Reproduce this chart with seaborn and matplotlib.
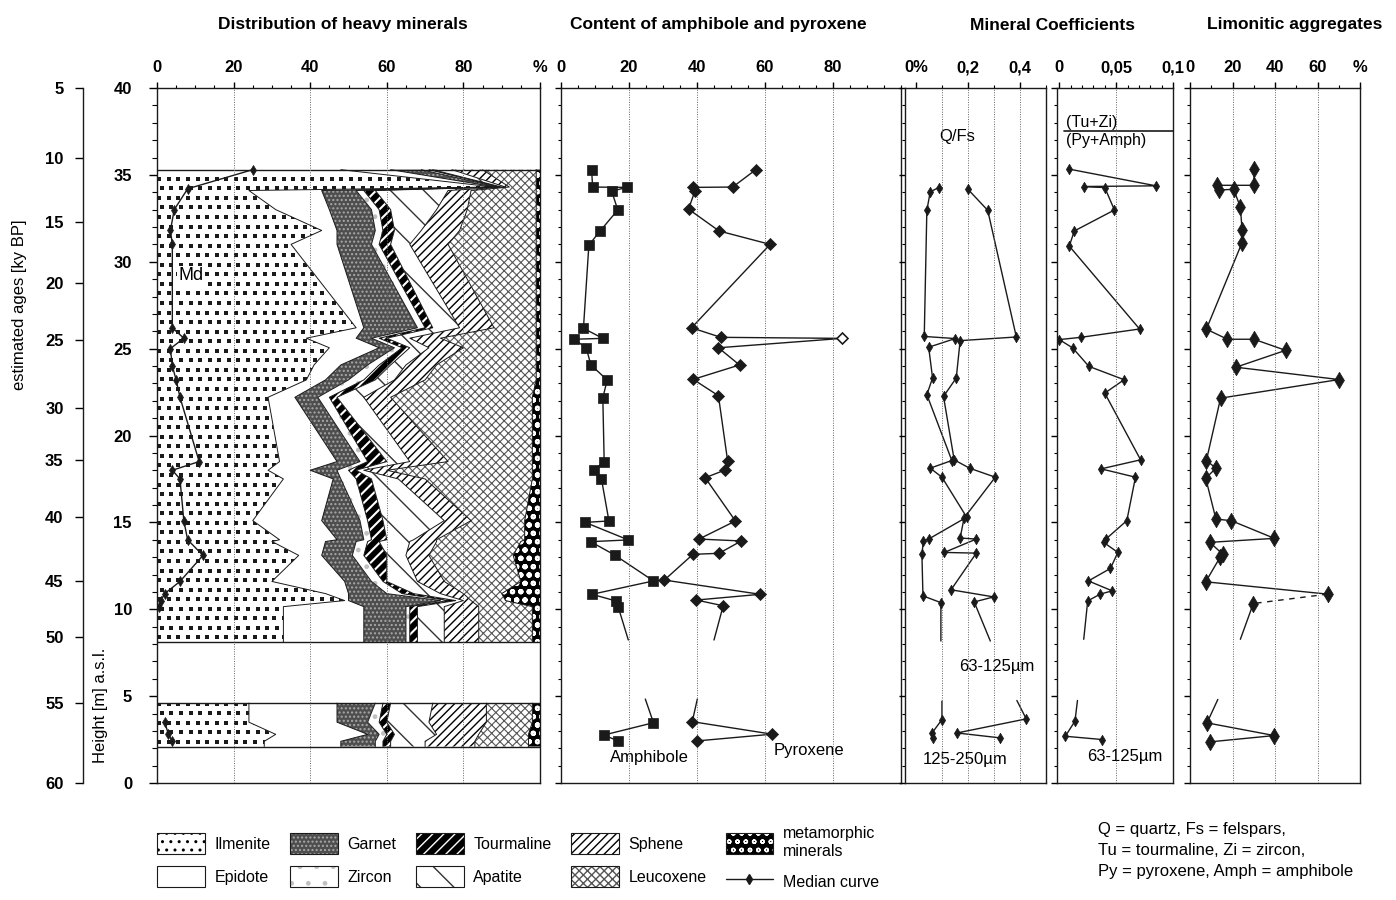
import numpy as np
import matplotlib
matplotlib.use('Agg')
import matplotlib.pyplot as plt
import matplotlib.patches as mpatches
from matplotlib.lines import Line2D
from matplotlib.legend_handler import HandlerTuple
from matplotlib.ticker import MultipleLocator
import seaborn as sns

sns.set_theme(style='ticks')
plt.rcParams['font.family'] = ['Liberation Sans', 'DejaVu Sans']
plt.rcParams['hatch.linewidth'] = 1.0
for key in ['text.color', 'axes.labelcolor', 'xtick.color', 'ytick.color', 'axes.edgecolor']:
    plt.rcParams[key] = 'black'

# ---------------- data ----------------
# heavy minerals, upper block (heights in m a.s.l., values in %)
hm_h = [35.3, 34.3, 34.1, 33.0, 31.8, 31.0, 26.2, 25.6, 25.05, 24.06, 23.2, 22.2,
        18.5, 18.0, 17.5, 15.1, 14.0, 13.9, 13.1, 11.6, 10.9, 10.5, 10.15]
hm_base = 8.1
ilmenite = [48, 88, 24, 31, 43, 35, 52, 39, 45, 41, 39, 29, 32, 29, 33, 25, 32, 30, 37, 30, 44, 49, 33]
epidote = [13, .5, 19, 14, 4, 12, 2, 13, 13, 7, 5, 7, 15, 11, 13, 18, 15, 14, 6, 19, 6, 1, 21]
garnet = [8, .5, 9, 11, 10, 9, 14, 4, 4, 7, 6, 6, 6, 7, 2, 10, 7, 8, 8, 7, 10, 24, 11]
zircon = [2, .5, 2, 2, 2, 2, 2, 2, 2, 3, 4, 3, 2, 3, 4, 2, 2, 3, 3, 3, 4, 2, 1]
tourmaline = [1, .5, 3, 3, 3, 3, 2, 2, 2, 3, 3, 2, 5, 2, 4, 4, 4, 3, 6, 1, 3, 2, 2]
apatite = [5, 1, 19, 12, 7, 5, 7, 6, 5, 4, 5, 7, 6, 2, 7, 16, 7, 8, 5, 8, 7, 2, 7]
sphene = [8, 1, 6, 8, 10, 10, 9, 8, 9, 8, 8, 7, 10, 6, 7, 7, 6, 7, 6, 7, 6, 2, 9]
leucoxene = [14, 7, 17, 18, 20, 23, 11, 25, 19, 26, 29, 37, 22, 38, 28, 14, 23, 22, 22, 20, 10, 9, 14]
metamorphic = [1, 1, 1, 1, 1, 1, 1, 1, 1, 1, 1, 2, 2, 2, 2, 4, 4, 5, 7, 5, 10, 9, 2]

# heavy minerals, lower block
hm_h_low = [4.6, 3.5, 2.8, 2.4]
hm_base_low = 2.1
ilmenite_low = [24, 24, 31, 28]
epidote_low = [23, 23, 24, 20]
garnet_low = [10, 8, 3, 9]
zircon_low = [2, 3, 2, 2]
tourmaline_low = [2, 2, 2, 2]
apatite_low = [11, 11, 11, 9]
sphene_low = [14, 15, 11, 13]
leucoxene_low = [12, 12, 13, 14]
metamorphic_low = [2, 2, 3, 3]

# median curve of the heavy mineral distribution
md_x = [25, 8, 4.5, 3.5, 4, 4, 7, 3.5, 4, 5, 6, 11, 4, 6, 7, 8, 12, 6, 2, 1, 0.5]
md_h = [35.3, 34.2, 33.0, 31.8, 31.0, 26.2, 25.6, 25.0, 24.0, 23.2, 22.2, 18.5, 18.0,
        17.5, 15.1, 14.0, 13.1, 11.6, 10.9, 10.5, 10.15]
md_x_low = [2, 3, 4]
md_h_low = [3.5, 2.8, 2.4]

# amphibole / pyroxene (%)
amph_h = [35.3, 34.3, 34.28, 34.07, 32.98, 31.77, 30.96, 26.17, 25.59, 25.54, 25.05, 24.06,
          23.19, 22.18, 18.49, 18.01, 17.5, 15.08, 15.0, 13.99, 13.89, 13.12, 11.63, 10.86,
          10.47, 10.15]
amph_x = [9.0, 9.3, 19.5, 14.9, 16.7, 11.5, 8.2, 6.6, 12.3, 3.8, 7.4, 8.8, 13.6, 12.3, 12.7,
          9.6, 11.9, 14.1, 7.1, 19.8, 8.7, 15.8, 27.2, 9.1, 16.3, 16.8]
amph_end = (19.8, 8.23)
amph_h_low = [3.47, 2.76, 2.42]
amph_x_low = [27.2, 12.6, 16.8]
amph_start_low = (24.8, 4.83)

pyr_h = [35.3, 34.3, 34.28, 34.07, 33.03, 31.77, 31.0, 26.2, 25.65, 25.59, 25.05, 24.06,
         23.23, 22.29, 18.55, 18.01, 17.57, 15.08, 14.04, 13.93, 13.22, 13.16, 11.68, 10.86,
         10.53, 10.2]
pyr_x = [57.3, 50.5, 38.9, 39.4, 37.5, 46.5, 61.5, 38.4, 47.0, 82.7, 46.3, 52.5, 38.9, 46.3,
         49.0, 48.2, 42.4, 51.3, 40.6, 53.0, 46.5, 38.8, 30.4, 58.6, 39.8, 47.7]
pyr_end = (45.0, 8.23)
pyr_h_low = [3.53, 2.81, 2.42]
pyr_x_low = [38.6, 62.1, 39.9]
pyr_start_low = (40.1, 4.83)

# Q/Fs ratio, 63-125 um and 125-250 um
qf_fine_h = [34.17, 32.96, 25.67, 25.46, 23.31, 22.25, 18.6, 18.12, 17.6, 15.25, 14.1,
             14.04, 13.27, 13.23, 11.12, 10.71, 10.42]
qf_fine_x = [0.20, 0.276, 0.386, 0.17, 0.155, 0.106, 0.147, 0.206, 0.305, 0.185, 0.17,
             0.232, 0.109, 0.232, 0.135, 0.299, 0.224]
qf_fine_end = (0.286, 8.17)
qf_fine_h_low = [3.69, 2.88, 2.6]
qf_fine_x_low = [0.424, 0.158, 0.322]
qf_fine_start_low = (0.388, 4.75)

qf_coarse_h = [34.27, 34.02, 32.96, 25.7, 25.58, 25.08, 23.31, 22.35, 18.56, 18.12, 17.6,
               15.3, 14.04, 13.95, 13.17, 10.77, 10.38]
qf_coarse_x = [0.087, 0.055, 0.042, 0.032, 0.151, 0.049, 0.064, 0.042, 0.138, 0.055, 0.10,
               0.195, 0.049, 0.029, 0.023, 0.027, 0.096]
qf_coarse_end = (0.096, 8.17)
qf_coarse_h_low = [3.65, 2.88, 2.6]
qf_coarse_x_low = [0.10, 0.062, 0.064]
qf_coarse_start_low = (0.10, 4.71)

# (Tu+Zi)/(Py+Amph)
tz_h = [35.33, 34.37, 34.33, 34.27, 32.98, 31.77, 30.9, 26.13, 25.65, 25.52, 25.04, 23.98,
        23.21, 22.44, 18.6, 18.08, 17.6, 15.1, 14.04, 13.85, 13.27, 12.35, 11.63, 11.06,
        10.87, 10.48]
tz_x = [0.0088, 0.085, 0.0215, 0.040, 0.0485, 0.0132, 0.0088, 0.0706, 0.019, 0.0, 0.0118,
        0.026, 0.057, 0.040, 0.0715, 0.0368, 0.067, 0.0594, 0.041, 0.039, 0.0515, 0.045,
        0.0256, 0.0465, 0.036, 0.025]
tz_end = (0.0215, 8.27)
tz_h_low = [3.56, 2.69, 2.5]
tz_x_low = [0.0138, 0.0053, 0.038]
tz_start_low = (0.016, 4.75)

# limonitic aggregates (%)
lim_h = [35.33, 34.4, 34.4, 34.13, 34.17, 33.16, 31.84, 31.1, 26.12, 25.54, 25.54, 24.9,
         23.93, 23.22, 22.15, 18.56, 18.12, 17.54, 15.19, 15.1, 14.08, 13.85, 13.17, 12.98,
         11.58, 10.87]
lim_x = [30.1, 30.1, 12.5, 13.8, 20.5, 23.7, 24.5, 24.5, 7.7, 17.6, 30.1, 45.0, 21.6, 70.1,
         14.4, 7.7, 12.2, 7.4, 12.2, 19.4, 39.7, 9.3, 15.4, 14.1, 7.4, 64.8]
lim_dashed_to = (29.8, 10.33)
lim_end = (23.7, 8.27)
lim_h_low = [3.46, 2.73, 2.37]
lim_x_low = [8.0, 39.7, 9.6]
lim_start_low = (13.1, 4.81)

# age scale (ky BP) against height
age_labels = [5, 10, 15, 20, 25, 30, 35, 40, 45, 50, 55, 60]
age_at_height = [40, 36.0, 32.3, 28.8, 25.5, 21.6, 18.6, 15.3, 11.6, 8.4, 4.6, 0]

minerals = ['Ilmenite', 'Epidote', 'Garnet', 'Zircon', 'Tourmaline', 'Apatite',
            'Sphene', 'Leucoxene', 'metamorphic minerals']
upper = [ilmenite, epidote, garnet, zircon, tourmaline, apatite, sphene, leucoxene, metamorphic]
lower = [ilmenite_low, epidote_low, garnet_low, zircon_low, tourmaline_low, apatite_low,
         sphene_low, leucoxene_low, metamorphic_low]

# facecolor, hatch colour, hatch, hatch linewidth
styles = {
    'Ilmenite': ('white', 'black', '..', 1.6),
    'Epidote': ('white', 'white', '', 1.0),
    'Garnet': ('#4e4e4e', '#a8a8a8', '....', 1.0),
    'Zircon': ('white', '#c0c0c0', '.', 1.0),
    'Tourmaline': ('black', 'white', '///', 1.5),
    'Apatite': ('white', '#333333', '\\', 1.0),
    'Sphene': ('white', 'black', '////', 1.0),
    'Leucoxene': ('white', '#555555', 'xxxx', 0.8),
    'metamorphic minerals': ('black', 'white', 'oo', 1.5),
}

W, H = 1396, 900
fig = plt.figure(figsize=(W / 100, H / 100), dpi=100)


def add_panel(x0, x1, y0=88, y1=783):
    return fig.add_axes([x0 / W, 1 - y1 / H, (x1 - x0) / W, (y1 - y0) / H])


def set_hlw(artist, lw):
    if hasattr(artist, 'set_hatch_linewidth'):
        artist.set_hatch_linewidth(lw)


def style_panel(ax, xlim, ticks, labels, minor, grid):
    ax.set_xlim(*xlim)
    ax.set_ylim(0, 40)
    ax.xaxis.tick_top()
    ax.set_xticks(ticks)
    ax.set_xticklabels(labels, fontweight='bold')
    ax.xaxis.set_minor_locator(MultipleLocator(minor))
    ax.yaxis.set_major_locator(MultipleLocator(5))
    ax.yaxis.set_minor_locator(MultipleLocator(1))
    ax.tick_params(axis='x', which='major', length=4, width=1, pad=5, labelsize=12,
                   top=True, bottom=False)
    ax.tick_params(axis='x', which='minor', length=2.5, width=0.8, top=True, bottom=False)
    ax.tick_params(axis='y', which='major', length=4, width=1, left=True, right=False)
    ax.tick_params(axis='y', which='minor', length=2.5, width=0.8, left=True, right=False)
    ax.set_yticklabels([])
    for g in grid:
        ax.axvline(g, color='0.4', lw=0.7, ls=(0, (1, 1.5)), zorder=3)
    for s in ax.spines.values():
        s.set_color('k')
        s.set_linewidth(1.0)
    ax.set_xlabel('')
    ax.set_ylabel('')


def square_texture(ax, coll, dx=2.5, dy=0.55):
    # staggered black squares clipped to the ilmenite field
    path = coll.get_paths()[0]
    ext = path.get_extents()
    px, py = [], []
    for i, y in enumerate(np.arange(ext.y0 + dy / 2, ext.y1, dy)):
        for x in np.arange(ext.x0 + (dx / 2 if i % 2 else 0.6), ext.x1, dx):
            px.append(x)
            py.append(y)
    sc = ax.scatter(px, py, marker='s', s=6.5, c='k', linewidths=0, zorder=1.5)
    sc.set_clip_path(path, ax.transData)


def draw_block(ax, h, comps, base):
    hh = np.r_[h, base]
    left = np.zeros(len(hh))
    for name, vals in zip(minerals, comps):
        v = np.r_[vals, vals[-1]]
        right = left + v
        fc, hc, hatch, hlw = styles[name]
        if name == 'Ilmenite':
            coll = ax.fill_betweenx(hh, left, right, facecolor='white', linewidth=0, zorder=1)
            square_texture(ax, coll)
        else:
            coll = ax.fill_betweenx(hh, left, right, facecolor=fc, edgecolor=hc, hatch=hatch,
                                    linewidth=0, zorder=1)
            set_hlw(coll, hlw)
        if name != minerals[-1]:
            ax.plot(right, hh, color='k', lw=0.7, zorder=2)
        left = right
    ax.hlines([hh[0], hh[-1]], 0, 100, color='k', lw=1, zorder=2)


def trace(ax, x, y, ls='-'):
    sns.lineplot(x=x, y=y, ax=ax, sort=False, estimator=None, color='k', lw=1,
                 linestyle=ls, legend=False)


def marks(ax, x, y, marker, size):
    sns.scatterplot(x=x, y=y, ax=ax, marker=marker, s=size, color='k', edgecolor='k',
                    linewidth=0.5, legend=False, zorder=4)


def series(ax, x, h, end=None, start=None, marker='d', size=40):
    xs, hs = list(x), list(h)
    if start is not None:
        xs, hs = [start[0]] + xs, [start[1]] + hs
    if end is not None:
        xs, hs = xs + [end[0]], hs + [end[1]]
    trace(ax, xs, hs)
    marks(ax, x, h, marker, size)


# ---------------- panel 1: heavy minerals ----------------
ax1 = add_panel(157, 540)
draw_block(ax1, hm_h, upper, hm_base)
draw_block(ax1, hm_h_low, lower, hm_base_low)
trace(ax1, md_x, md_h)
marks(ax1, md_x, md_h, 'd', 26)
trace(ax1, md_x_low, md_h_low)
marks(ax1, md_x_low, md_h_low, 'd', 26)
ax1.text(9, 29.2, 'Md', fontsize=13, ha='center', va='center', zorder=5,
         bbox=dict(facecolor='white', edgecolor='none', pad=1))
style_panel(ax1, (0, 100), [0, 20, 40, 60, 80, 100], ['0', '20', '40', '60', '80', '%'],
            5, [20, 40, 60, 80])
ax1.set_yticks(range(0, 41, 5))
ax1.set_yticklabels([str(v) for v in range(0, 41, 5)], fontweight='bold')
ax1.tick_params(axis='y', which='major', length=6, pad=12, labelsize=12)
ax1.tick_params(axis='y', which='minor', length=3.5)

# ---------------- panel 2: amphibole / pyroxene ----------------
ax2 = add_panel(561, 901)
series(ax2, amph_x, amph_h, end=amph_end, marker='s', size=45)
series(ax2, amph_x_low, amph_h_low, start=amph_start_low, marker='s', size=45)
series(ax2, pyr_x, pyr_h, end=pyr_end, marker='D', size=38)
series(ax2, pyr_x_low, pyr_h_low, start=pyr_start_low, marker='D', size=38)
ax2.scatter([pyr_x[9]], [pyr_h[9]], marker='D', s=30, facecolor='white', edgecolor='k',
            linewidth=1, zorder=5)
ax2.text(26, 1.45, 'Amphibole', fontsize=12, ha='center', va='center')
ax2.text(73, 1.85, 'Pyroxene', fontsize=12, ha='center', va='center')
style_panel(ax2, (0, 100), [0, 20, 40, 60, 80], ['0', '20', '40', '60', '80'],
            5, [20, 40, 60, 80])

# ---------------- panel 3: Q/Fs ----------------
ax3 = add_panel(905, 1046)
series(ax3, qf_fine_x, qf_fine_h, end=qf_fine_end, size=28)
series(ax3, qf_fine_x_low, qf_fine_h_low, start=qf_fine_start_low, size=28)
series(ax3, qf_coarse_x, qf_coarse_h, end=qf_coarse_end, size=28)
series(ax3, qf_coarse_x_low, qf_coarse_h_low, start=qf_coarse_start_low, size=28)
ax3.text(0.158, 37.2, 'Q/Fs', fontsize=12, ha='center', va='center')
ax3.text(0.31, 6.7, '63-125\u00b5m', fontsize=12, ha='center', va='center')
ax3.text(0.19, 1.35, '125-250\u00b5m', fontsize=12, ha='center', va='center')
style_panel(ax3, (-0.042, 0.5), [0, 0.2, 0.4], ['0%', '0,2', '0,4'],
            0.1, [0.1, 0.2, 0.3, 0.4])

# ---------------- panel 4: (Tu+Zi)/(Py+Amph) ----------------
ax4 = add_panel(1057, 1173)
series(ax4, tz_x, tz_h, end=tz_end, size=28)
series(ax4, tz_x_low, tz_h_low, start=tz_start_low, size=28)
ax4.text(0.006, 37.56, '(Tu+Zi)', fontsize=11.5, ha='left', va='bottom')
ax4.plot([0.004, 0.1], [37.5, 37.5], color='k', lw=1.2)
ax4.text(0.006, 37.42, '(Py+Amph)', fontsize=11.5, ha='left', va='top')
ax4.text(0.058, 1.55, '63-125\u00b5m', fontsize=12, ha='center', va='center')
style_panel(ax4, (-0.002, 0.1), [0, 0.05, 0.1], ['0', '0,05', '0,1'], 0.01, [0.05])

# ---------------- panel 5: limonitic aggregates ----------------
ax5 = add_panel(1190, 1360)
series(ax5, lim_x, lim_h, marker='d', size=70)
trace(ax5, [lim_x[-1], lim_dashed_to[0]], [lim_h[-1], lim_dashed_to[1]], ls=(0, (4, 4)))
trace(ax5, [lim_dashed_to[0], lim_end[0]], [lim_dashed_to[1], lim_end[1]])
marks(ax5, [lim_dashed_to[0]], [lim_dashed_to[1]], 'd', 70)
series(ax5, lim_x_low, lim_h_low, start=lim_start_low, marker='d', size=70)
style_panel(ax5, (0, 80), [0, 20, 40, 60, 80], ['0', '20', '40', '60', '%'],
            10, [20, 40, 60])

# ---------------- age axis ----------------
ax_age = fig.add_axes([83 / W, 1 - 783 / H, 0.0001, 695 / H])
ax_age.set_ylim(0, 40)
ax_age.set_xticks([])
for side in ['top', 'bottom', 'right']:
    ax_age.spines[side].set_visible(False)
ax_age.spines['left'].set_linewidth(1.0)
ax_age.spines['left'].set_color('k')
ax_age.set_yticks(age_at_height)
ax_age.set_yticklabels([str(a) for a in age_labels], fontweight='bold')
ax_age.tick_params(axis='y', length=6, width=1, pad=8, labelsize=12)

fig.text(20 / W, 1 - 305 / H, 'estimated ages [ky BP]', rotation=90, fontsize=12,
         ha='center', va='center')
fig.text(100 / W, 1 - 705 / H, 'Height [m] a.s.l.', rotation=90, fontsize=12,
         ha='center', va='center')

# ---------------- titles ----------------
for x, t in [(343, 'Distribution of heavy minerals'), (718, 'Content of amphibole and pyroxene'),
             (1052, 'Mineral Coefficients'), (1295, 'Limonitic aggregates')]:
    fig.text(x / W, 1 - 25 / H, t, fontsize=12.5, fontweight='bold', ha='center', va='center')

# ---------------- legend ----------------
handles = []
for name in minerals:
    fc, hc, hatch, hlw = styles[name]
    p = mpatches.Patch(facecolor=fc, edgecolor=hc, hatch=hatch, linewidth=0)
    set_hlw(p, hlw)
    handles.append((p, mpatches.Patch(facecolor='none', edgecolor='k', linewidth=0.8)))
handles.append(Line2D([0], [0], color='k', lw=1, marker='d', markersize=5))
labels = ['Ilmenite', 'Epidote', 'Garnet', 'Zircon', 'Tourmaline', 'Apatite', 'Sphene',
          'Leucoxene', 'metamorphic\nminerals', 'Median curve']
fig.legend(handles, labels, ncol=5,
           loc='upper left', bbox_to_anchor=(143 / W, 1 - 812 / H), frameon=False,
           fontsize=11.5, handlelength=3.0, handleheight=1.6, handletextpad=0.6,
           columnspacing=1.2, labelspacing=0.8,
           handler_map={tuple: HandlerTuple(ndivide=1)})

fig.text(1098 / W, 1 - 822 / H,
         'Q = quartz, Fs = felspars,\nTu = tourmaline, Zi = zircon,\nPy = pyroxene, Amph = amphibole',
         fontsize=12, ha='left', va='top', linespacing=1.5)

fig.savefig('out.png', dpi=100, facecolor='white')
